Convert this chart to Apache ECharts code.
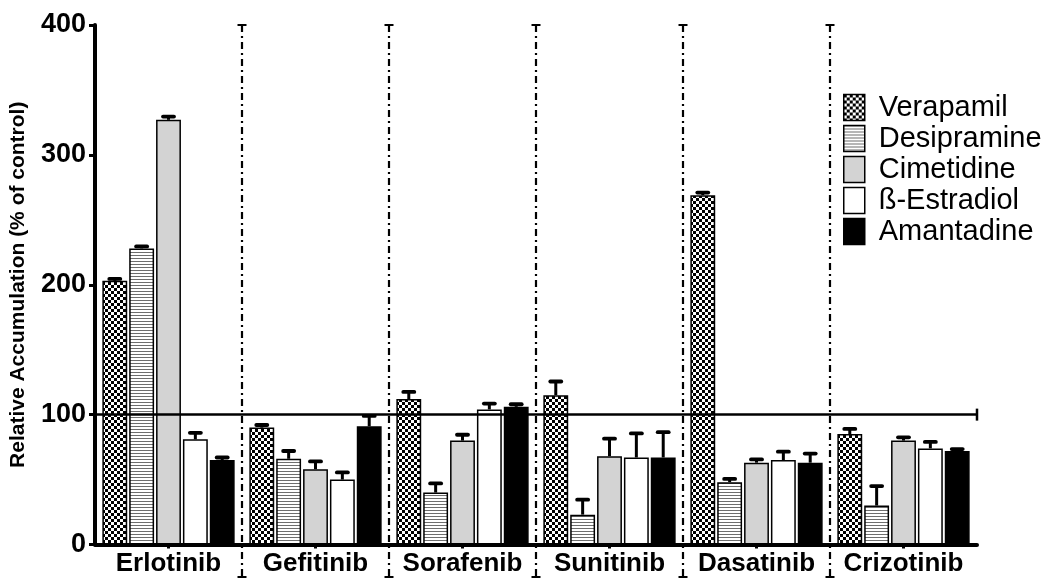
<!DOCTYPE html>
<html>
<head>
<meta charset="utf-8">
<script src="https://cdn.jsdelivr.net/npm/echarts@6/dist/echarts.min.js"></script>
<style>
  html, body { margin: 0; padding: 0; background: #fff; }
  #chart { width: 1047px; height: 579px; }
</style>
</head>
<body>
<div id="chart"></div>
<script>
// ---- data ----
const categories = ['Erlotinib', 'Gefitinib', 'Sorafenib', 'Sunitinib', 'Dasatinib', 'Crizotinib'];
const seriesNames = ['Verapamil', 'Desipramine', 'Cimetidine', '\u00DF-Estradiol', 'Amantadine'];
const verapamil     = [203, 90, 112, 115, 269, 85];
const verapamilErr  = [1.5, 2, 5.5, 10.5, 2, 4];
const desipramine   = [228, 66, 40, 23, 48, 30];
const desipramineErr= [1.5, 6, 7, 11.5, 2.5, 15];
const cimetidine    = [327, 58, 80, 68, 63, 80];
const cimetidineErr = [2.5, 6, 4.5, 13.5, 2.5, 2.5];
const estradiol     = [81, 50, 104, 67, 65, 74];
const estradiolErr  = [5, 5.5, 4.5, 18.5, 6.5, 5];
const amantadine    = [65, 91, 106, 67, 63, 72];
const amantadineErr = [2, 8, 2, 19.5, 7, 1.5];
const yTicks = [0, 100, 200, 300, 400];
const referenceLevel = 100;
const separators = [1, 2, 3, 4, 5];

const values = [verapamil, desipramine, cimetidine, estradiol, amantadine];
const errors = [verapamilErr, desipramineErr, cimetidineErr, estradiolErr, amantadineErr];

// ---- patterns ----
function checker() {
  const c = document.createElement('canvas'); c.width = 6; c.height = 6;
  const g = c.getContext('2d');
  g.fillStyle = '#fff'; g.fillRect(0, 0, 6, 6);
  g.fillStyle = '#000'; g.fillRect(0, 0, 3, 3); g.fillRect(3, 3, 3, 3);
  return c;
}
function stripes() {
  const c = document.createElement('canvas'); c.width = 4; c.height = 3;
  const g = c.getContext('2d');
  g.fillStyle = '#fff'; g.fillRect(0, 0, 4, 3);
  g.fillStyle = '#6e6e6e'; g.fillRect(0, 0, 4, 1);
  return c;
}
const fills = [
  { image: checker(), repeat: 'repeat' },
  { image: stripes(), repeat: 'repeat' },
  '#d3d3d3',
  '#ffffff',
  '#000000'
];

const FONT = "'Liberation Sans', Arial, Helvetica, sans-serif";
const CAT_GAP = 0.10, BAR_GAP = 0.08, N = 5;

function renderErr(params, api) {
  const ci = api.value(0), v = api.value(1), e = api.value(2), si = api.value(3);
  const band = api.size([1, 0])[0];
  const usable = band * (1 - CAT_GAP);
  const w = usable / (N + (N - 1) * BAR_GAP);
  const center = api.coord([ci, 0])[0];
  const x = center - usable / 2 + w / 2 + si * w * (1 + BAR_GAP);
  const p0 = api.coord([ci, v]);
  const p1 = api.coord([ci, v + e]);
  return {
    type: 'group',
    children: [
      { type: 'line', shape: { x1: x, y1: p0[1], x2: x, y2: p1[1] + 1 }, style: { stroke: '#000', lineWidth: 3 } },
      { type: 'line', shape: { x1: x - 5.5, y1: p1[1], x2: x + 5.5, y2: p1[1] }, style: { stroke: '#000', lineWidth: 3.8, lineCap: 'round' } }
    ]
  };
}

const series = [];
seriesNames.forEach((name, si) => {
  const s = {
    name: name,
    type: 'bar',
    data: values[si],
    barCategoryGap: (CAT_GAP * 100) + '%',
    barGap: (BAR_GAP * 100) + '%',
    itemStyle: { color: fills[si], borderColor: '#000', borderWidth: 1.5 },
    emphasis: { disabled: true },
    z: 2
  };
  if (si === 0) {
    s.markLine = {
      silent: true,
      symbol: ['none', 'rect'],
      symbolSize: [12, 2.5],
      label: { show: false },
      lineStyle: { color: '#000', width: 2.5, type: 'solid' },
      data: [{ yAxis: referenceLevel }],
      z: 5
    };
  }
  series.push(s);
});
seriesNames.forEach((name, si) => {
  series.push({
    type: 'custom',
    renderItem: renderErr,
    data: categories.map((c, ci) => [ci, values[si][ci], errors[si][ci], si]),
    encode: { x: 0, y: 1 },
    z: 4,
    silent: true
  });
});
// dash-dot category separators
series.push({
  type: 'line',
  xAxisIndex: 1,
  yAxisIndex: 0,
  data: [],
  clip: false,
  silent: true,
  markLine: {
    silent: true,
    symbol: ['rect', 'rect'],
    symbolSize: [9, 2],
    label: { show: false },
    lineStyle: { color: '#000', width: 2.2, type: [7, 4, 2, 4] },
    data: separators.map(s => [{ xAxis: s, yAxis: 400 }, { xAxis: s, y: 577 }])
  }
});

const chart = echarts.init(document.getElementById('chart'), null, { renderer: 'canvas' });
chart.setOption({
  animation: false,
  backgroundColor: '#fff',
  textStyle: { fontFamily: FONT },
  grid: { left: 94, right: 70, top: 25, bottom: 34.5, containLabel: false },
  legend: {
    orient: 'vertical',
    left: 843,
    top: 92,
    padding: 0,
    icon: 'rect',
    itemWidth: 21,
    itemHeight: 26,
    itemGap: 0,
    data: seriesNames,
    textStyle: { fontSize: 29, lineHeight: 31, color: '#000', fontFamily: FONT, padding: [0, 0, 0, 9] },
    itemStyle: { borderColor: '#000', borderWidth: 1.5 }
  },
  xAxis: [
    {
      type: 'category',
      data: categories,
      axisLine: { show: true, lineStyle: { color: '#000', width: 4 } },
      axisTick: { show: true, alignWithLabel: true, length: 4, lineStyle: { color: '#000', width: 3 } },
      axisLabel: { color: '#000', fontSize: 26, fontWeight: 'bold', margin: 6, interval: 0, fontFamily: FONT },
      splitLine: { show: false }
    },
    {
      type: 'value',
      min: 0,
      max: categories.length,
      show: false,
      gridIndex: 0
    }
  ],
  yAxis: {
    type: 'value',
    min: yTicks[0],
    max: yTicks[yTicks.length - 1],
    interval: 100,
    name: 'Relative Accumulation (% of control)',
    nameLocation: 'middle',
    nameGap: 66,
    nameTextStyle: { color: '#000', fontSize: 21, fontWeight: 'bold', fontFamily: FONT },
    axisLine: { show: true, lineStyle: { color: '#000', width: 4 } },
    axisTick: { show: true, length: 6, lineStyle: { color: '#000', width: 3 } },
    axisLabel: { color: '#000', fontSize: 27, fontWeight: 'bold', margin: 9, fontFamily: FONT },
    splitLine: { show: false }
  },
  series: series
});
</script>
</body>
</html>
